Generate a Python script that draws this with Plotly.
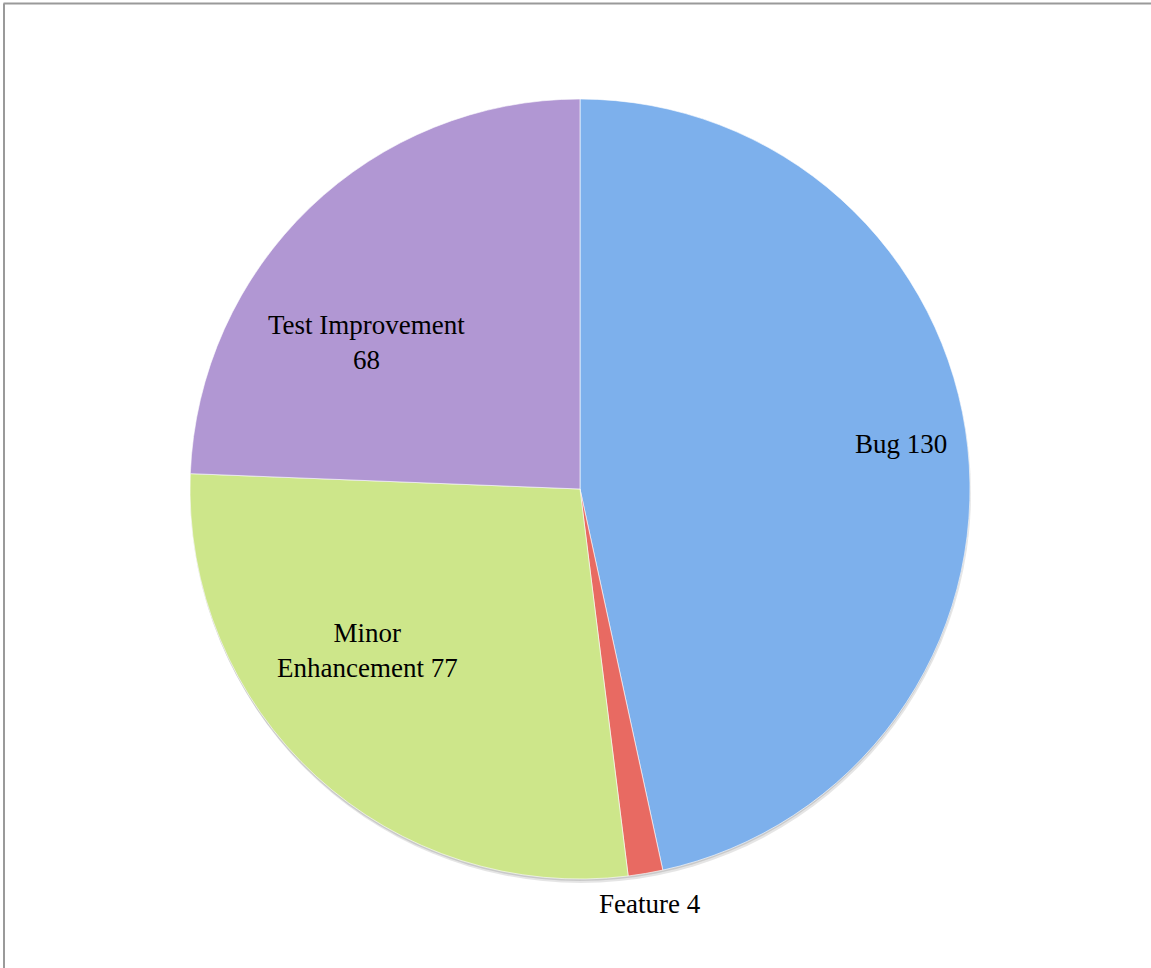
import plotly.graph_objects as go

# Issue categories and counts
categories = ["Bug", "Feature", "Minor Enhancement", "Test Improvement"]
counts = [130, 4, 77, 68]

slice_colors = ["#7DB0EC", "#E86A62", "#CDE68A", "#B197D3"]

W, H = 1151, 968
cx, cy, r = 580, 489, 390


def px(x):
    return x / W


def py(y):
    return 1 - y / H


fig = go.Figure()

fig.add_trace(go.Pie(
    labels=categories,
    values=counts,
    sort=False,
    direction="clockwise",
    rotation=0,
    marker=dict(colors=slice_colors, line=dict(color="rgba(255,255,255,0.6)", width=1)),
    textinfo="none",
    showlegend=False,
    hoverinfo="label+value",
    domain=dict(x=[px(cx - r), px(cx + r)], y=[py(cy + r), py(cy - r)]),
))

# soft drop shadow under the pie
fig.add_shape(type="circle", xref="paper", yref="paper", layer="below",
              x0=px(cx - r + 1), x1=px(cx + r + 1), y0=py(cy + r + 4), y1=py(cy - r + 4),
              fillcolor="rgba(0,0,0,0.10)", line=dict(width=0))
fig.add_shape(type="circle", xref="paper", yref="paper", layer="below",
              x0=px(cx - r), x1=px(cx + r), y0=py(cy + r + 2), y1=py(cy - r + 2),
              fillcolor="rgba(0,0,0,0.12)", line=dict(width=0))

# slice labels: name and value taken from the data
label_text = [
    f"{categories[0]} {counts[0]}",
    f"{categories[1]} {counts[1]}",
    "Minor<br>Enhancement " + str(counts[2]),
    f"{categories[3]}<br>{counts[3]}",
]
label_pos = [(901, 444), (650, 904), (367, 650), (366, 342)]
for txt, (lx, ly) in zip(label_text, label_pos):
    fig.add_annotation(x=px(lx), y=py(ly), xref="paper", yref="paper", text=txt,
                       showarrow=False, xanchor="center", yanchor="middle",
                       font=dict(family="Liberation Serif", size=27, color="#000000"))

# thin frame along the top and left edges
fig.add_shape(type="line", xref="paper", yref="paper", x0=px(3.5), x1=1, y0=py(3.5), y1=py(3.5),
              line=dict(color="#9A9A9A", width=2))
fig.add_shape(type="line", xref="paper", yref="paper", x0=px(4), x1=px(4), y0=0, y1=py(3.5),
              line=dict(color="#9A9A9A", width=2))

fig.update_layout(
    width=W, height=H, autosize=False,
    margin=dict(l=0, r=0, t=0, b=0),
    paper_bgcolor="white", plot_bgcolor="white",
)

fig.write_html("out.html")
